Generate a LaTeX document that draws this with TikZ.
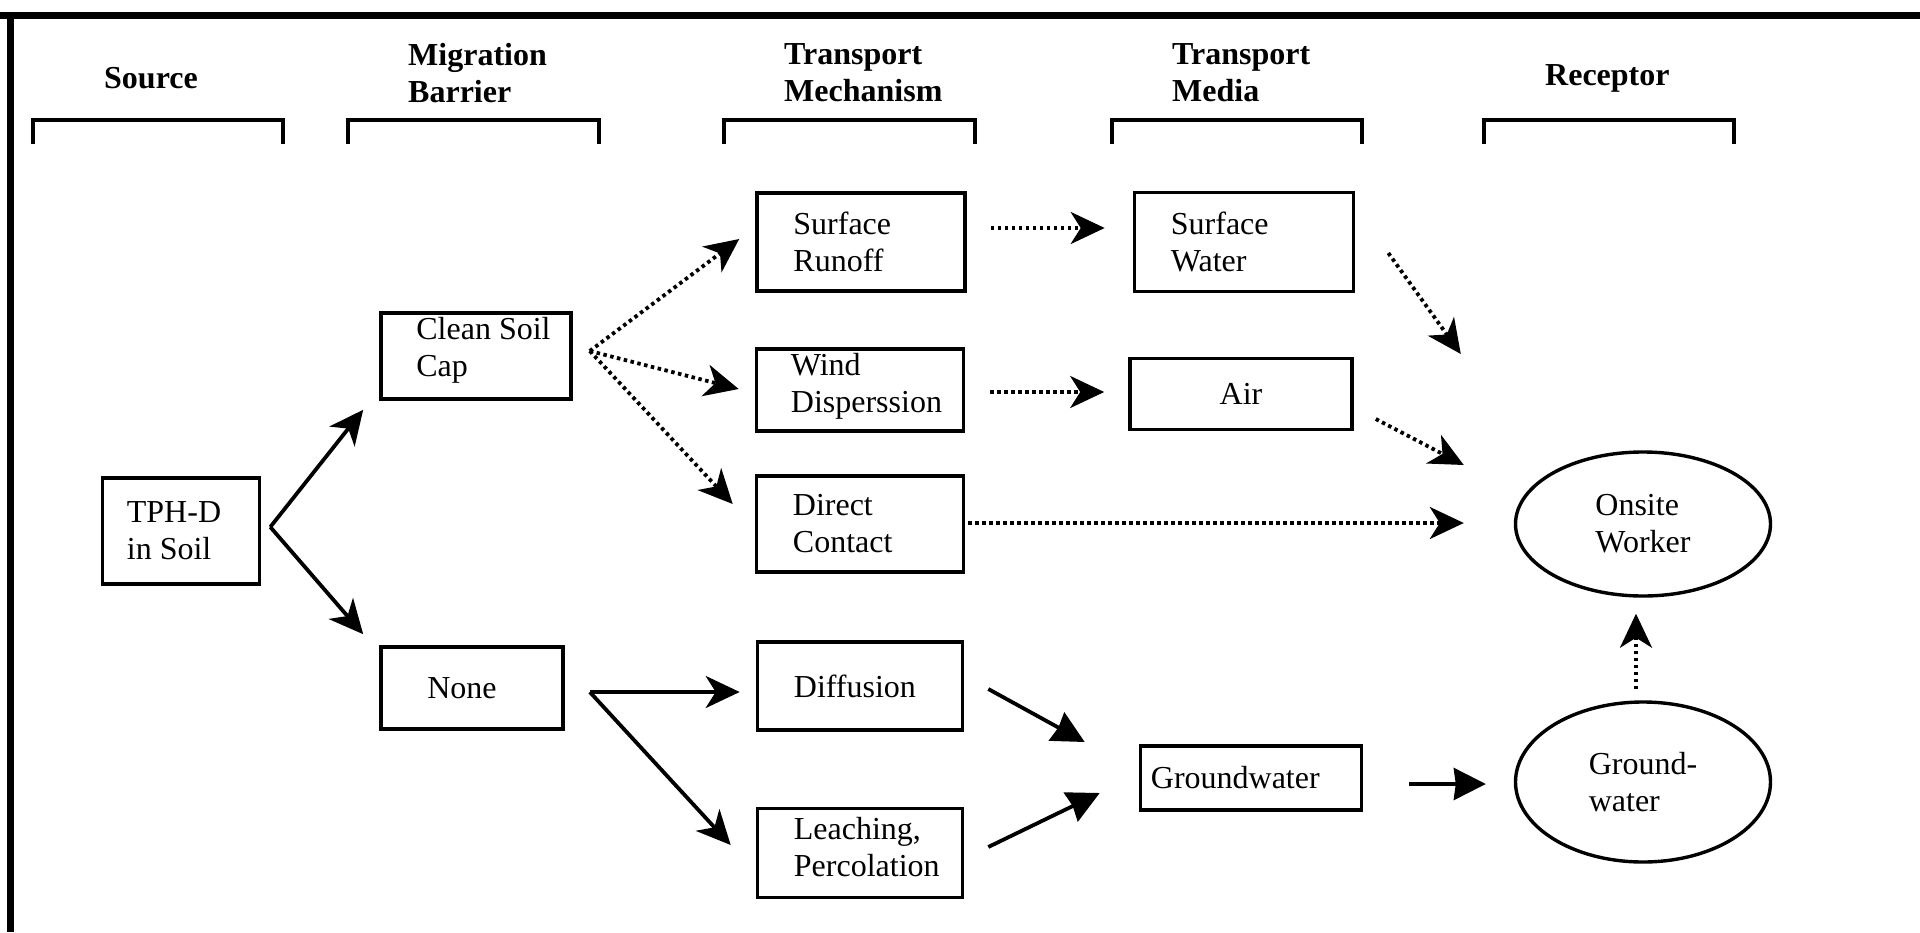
\documentclass[tikz,border=0pt]{standalone}
\usepackage{fontspec}
\setmainfont{Liberation Serif}
\usetikzlibrary{arrows.meta,shapes.geometric,calc}
\begin{document}
\begin{tikzpicture}[x=1pt,y=-1pt,
  box/.style={draw,line width=3.6pt,rectangle,inner sep=0pt},
  oval/.style={draw,line width=3.4pt,ellipse,inner sep=0pt},
  lbl/.style={font=\fontsize{32}{37}\selectfont,align=left,inner sep=0pt},
  lblw/.style={lbl,anchor=west},
  hdr/.style={font=\bfseries\fontsize{32}{37}\selectfont,align=left,inner sep=0pt,anchor=west},
  bracket/.style={line width=3.6pt},
  frame/.style={line width=7pt},
  arr/.style={line width=3.8pt,-{Stealth[length=34pt,width=32pt,inset=10pt]}},
  tarr/.style={line width=3.8pt,-{Stealth[length=32pt,width=32pt,inset=2pt]}},
  darr/.style={arr,dash pattern=on 3.5pt off 3.5pt},
]
\useasboundingbox (0,0) rectangle (1920,932);
% frame
\draw[frame] (0,15) -- (1920,15);
\draw[frame] (10,12) -- (10,932);
% headers
\node[hdr] (hsrc) at (104,78) {Source};
\node[hdr] (hmig) at (408,73) {Migration\\Barrier};
\node[hdr] (hmech) at (784,73) {Transport\\Mechanism};
\node[hdr] (hmed) at (1172,73) {Transport\\Media};
\node[hdr] (hrec) at (1545,78) {Receptor};
% brackets
\draw[bracket] (33,144) -- (33,120) -- (283,120) -- (283,144);
\draw[bracket] (348,144) -- (348,120) -- (599,120) -- (599,144);
\draw[bracket] (724,144) -- (724,120) -- (975,120) -- (975,144);
\draw[bracket] (1112,144) -- (1112,120) -- (1362,120) -- (1362,144);
\draw[bracket] (1484,144) -- (1484,120) -- (1734,120) -- (1734,144);
% boxes
\node[box,minimum width=157,minimum height=106] (tph) at (181,531) {};
\node[box,minimum width=190,minimum height=86] (cap) at (476,356) {};
\node[box,minimum width=182,minimum height=82] (none) at (472,688) {};
\node[box,minimum width=208,minimum height=98] (runoff) at (861,242) {};
\node[box,minimum width=207,minimum height=82] (wind) at (860,390) {};
\node[box,minimum width=207,minimum height=96] (direct) at (860,524) {};
\node[box,minimum width=205,minimum height=88] (diff) at (860,686) {};
\node[box,minimum width=205,minimum height=89] (leach) at (860,853) {};
\node[box,minimum width=219,minimum height=99] (swater) at (1244,242) {};
\node[box,minimum width=222,minimum height=71] (air) at (1241,394) {};
\node[box,minimum width=221,minimum height=64] (gwbox) at (1251,778) {};
\node[oval,lbl,minimum width=255,minimum height=144] (onsite) at (1643,524) {Onsite\\Worker};
\node[oval,lbl,minimum width=255,minimum height=160] (gwell) at (1643,782) {Ground-\\water};
% labels
\node[lblw] (tphT) at ([xshift=26]tph.west) {TPH-D\\in Soil};
\node[lblw] (capT) at ([shift={(37,-6)}]cap.west) {Clean Soil\\Cap};
\node[lbl] (noneT) at ([xshift=-10]none.center) {None};
\node[lblw] (runoffT) at ([xshift=38]runoff.west) {Surface\\Runoff};
\node[lblw] (windT) at ([shift={(36,-4)}]wind.west) {Wind\\Disperssion};
\node[lblw] (directT) at ([xshift=38]direct.west) {Direct\\Contact};
\node[lblw] (diffT) at ([xshift=38]diff.west) {Diffusion};
\node[lblw] (leachT) at ([shift={(38,-6)}]leach.west) {Leaching,\\Percolation};
\node[lblw] (swaterT) at ([xshift=38]swater.west) {Surface\\Water};
\node[lbl] (airT) at (air.center) {Air};
\node[lblw] (gwboxT) at ([xshift=12]gwbox.west) {Groundwater};
% split points
\coordinate (tsplit) at ([shift={(9,-4)}]tph.east);
\coordinate (csplit) at ([shift={(17,-5)}]cap.east);
\coordinate (nsplit) at ([shift={(25,4)}]none.east);
% solid arrows
\draw[arr] (tsplit) -- ([shift={(-16,9)}]cap.south west);
\draw[arr] (tsplit) -- ([shift={(-16,-11)}]none.north west);
\draw[arr] (nsplit) -- ([shift={(-16,6)}]diff.west);
\draw[arr] (nsplit) -- ([shift={(-25,-8)}]leach.west);
\draw[tarr] ([shift={(24,3)}]diff.east) -- ([shift={(-54,-36)}]gwbox.west);
\draw[tarr] ([shift={(24,-6)}]leach.east) -- ([shift={(-39,15)}]gwbox.west);
\draw[tarr] ([shift={(46,6)}]gwbox.east) -- ([shift={(-28,2)}]gwell.west);
% dotted arrows
\draw[darr] (csplit) -- ([shift={(-16,-3)}]runoff.west);
\draw[darr] (csplit) -- ([shift={(-16,-1)}]wind.west);
\draw[darr] (csplit) -- ([shift={(-22,-20)}]direct.west);
\draw[darr] ([shift={(24,-14)}]runoff.east) -- ([shift={(-28,-14)}]swater.west);
\draw[darr] ([shift={(25,2)}]wind.east) -- ([shift={(-24,-2)}]air.west);
\draw[darr] ([shift={(3,-1)}]direct.east) -- ([shift={(-50,-1)}]onsite.west);
\draw[darr] ([shift={(33,11)}]swater.east) -- ([shift={(-53,-170)}]onsite.west);
\draw[darr] ([shift={(22,25)}]air.east) -- ([shift={(-50,-59)}]onsite.west);
\draw[darr] ([shift={(-7,-11)}]gwell.north) -- ([shift={(-7,16)}]onsite.south);
\end{tikzpicture}
\end{document}
